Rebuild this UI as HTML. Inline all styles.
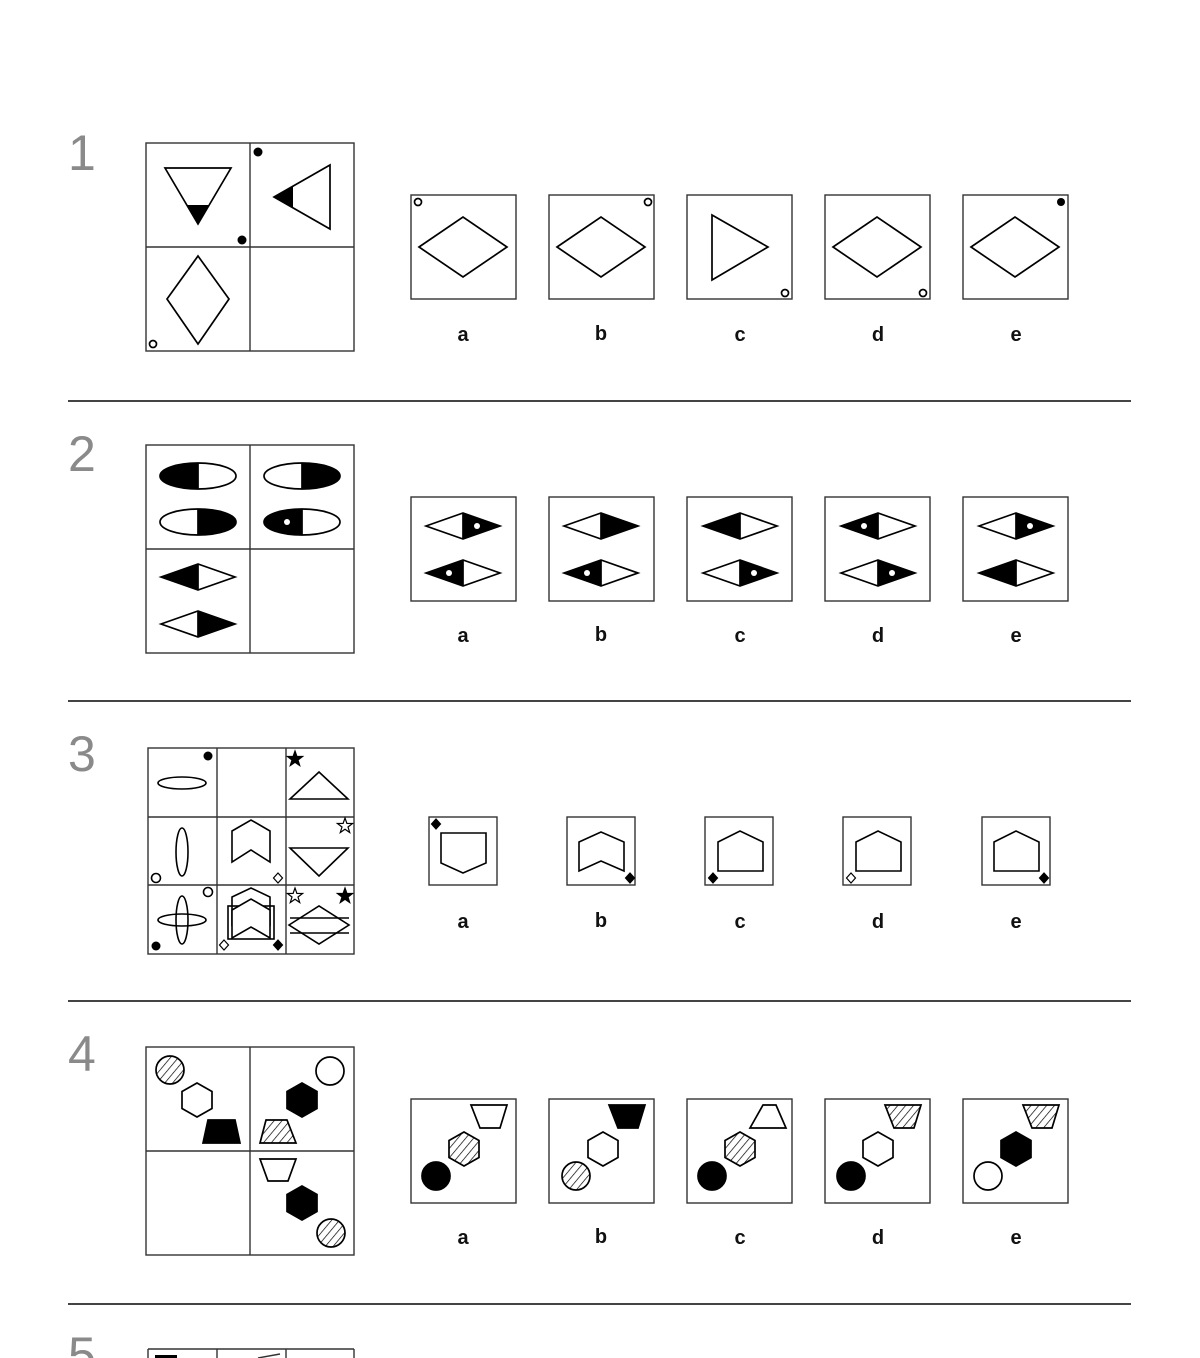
<!DOCTYPE html>
<html><head><meta charset="utf-8"><style>
html,body{margin:0;padding:0;background:#fff;}
svg{display:block;}
.n{font-family:"Liberation Sans",sans-serif;font-size:50px;fill:#8a8a8a;}
.l{font-family:"Liberation Sans",sans-serif;font-size:20px;font-weight:bold;fill:#111;text-anchor:middle;}
</style></head><body>
<svg width="1200" height="1358" viewBox="0 0 1200 1358" xmlns="http://www.w3.org/2000/svg">
<defs>
<pattern id="h" width="6" height="6" patternUnits="userSpaceOnUse" patternTransform="rotate(40)"><line x1="0" y1="0" x2="0" y2="6" stroke="#000" stroke-width="1.4"/></pattern>
<g id="dL"><polygon points="-37,0 0,-13 0,13" fill="#000"/><polygon points="-37,0 0,-13 37,0 0,13" fill="none" stroke="#000" stroke-width="1.7"/><line x1="0" y1="-13" x2="0" y2="13" stroke="#000" stroke-width="1.7"/></g>
<g id="dR"><polygon points="37,0 0,-13 0,13" fill="#000"/><polygon points="-37,0 0,-13 37,0 0,13" fill="none" stroke="#000" stroke-width="1.7"/><line x1="0" y1="-13" x2="0" y2="13" stroke="#000" stroke-width="1.7"/></g>
<g id="eL"><path d="M0,-13 A38,13 0 0 0 0,13 Z" fill="#000"/><ellipse rx="38" ry="13" fill="none" stroke="#000" stroke-width="1.7"/><line x1="0" y1="-13" x2="0" y2="13" stroke="#000" stroke-width="1.7"/></g>
<g id="eR"><path d="M0,-13 A38,13 0 0 1 0,13 Z" fill="#000"/><ellipse rx="38" ry="13" fill="none" stroke="#000" stroke-width="1.7"/><line x1="0" y1="-13" x2="0" y2="13" stroke="#000" stroke-width="1.7"/></g>
<polygon id="hex" points="0,-17 15,-8.5 15,8.5 0,17 -15,8.5 -15,-8.5" stroke="#000" stroke-width="1.7"/>
<polygon id="star" points="0,-8 1.9,-2.6 7.6,-2.5 3,1 4.7,6.5 0,3.2 -4.7,6.5 -3,1 -7.6,-2.5 -1.9,-2.6" stroke="#000" stroke-width="1.2"/>
<polygon id="sd" points="0,-5 4.5,0 0,5 -4.5,0" stroke="#000" stroke-width="1.2"/>
</defs>

<g stroke="#444" stroke-width="2">
<line x1="68" y1="401" x2="1131" y2="401"/>
<line x1="68" y1="701" x2="1131" y2="701"/>
<line x1="68" y1="1001" x2="1131" y2="1001"/>
<line x1="68" y1="1304" x2="1131" y2="1304"/>
</g>

<text class="n" x="68" y="170">1</text>
<text class="n" x="68" y="471">2</text>
<text class="n" x="68" y="771">3</text>
<text class="n" x="68" y="1071">4</text>
<text class="n" x="68" y="1372">5</text>

<!-- Row 1 -->
<g fill="none" stroke="#333" stroke-width="1.4">
<rect x="146" y="143" width="208" height="208"/><line x1="250" y1="143" x2="250" y2="351"/><line x1="146" y1="247" x2="354" y2="247"/>
<rect x="411" y="195" width="105" height="104"/><rect x="549" y="195" width="105" height="104"/><rect x="687" y="195" width="105" height="104"/><rect x="825" y="195" width="105" height="104"/><rect x="963" y="195" width="105" height="104"/>
</g>
<g fill="none" stroke="#000" stroke-width="1.7">
<polygon points="165,168 231,168 198,224"/>
<polygon points="274,197 330,165 330,229"/>
<polygon points="198,256 229,299 198,344 167,299"/>
<polygon points="419,247 463,217 507,247 463,277"/>
<polygon points="557,247 601,217 645,247 601,277"/>
<polygon points="712,215 768,247 712,280"/>
<polygon points="833,247 877,217 921,247 877,277"/>
<polygon points="971,247 1015,217 1059,247 1015,277"/>
<circle cx="153" cy="344" r="3.5"/><circle cx="418" cy="202" r="3.5"/><circle cx="648" cy="202" r="3.5"/><circle cx="785" cy="293" r="3.5"/><circle cx="923" cy="293" r="3.5"/>
</g>
<polygon points="187,205 209,205 198,224" fill="#000"/>
<polygon points="274,197 293,186 293,208" fill="#000"/>
<circle cx="242" cy="240" r="4.5" fill="#000"/><circle cx="258" cy="152" r="4.5" fill="#000"/><circle cx="1061" cy="202" r="4" fill="#000"/>
<text class="l" x="463" y="341">a</text><text class="l" x="601" y="340">b</text><text class="l" x="740" y="341">c</text><text class="l" x="878" y="341">d</text><text class="l" x="1016" y="341">e</text>

<!-- Row 2 -->
<g fill="none" stroke="#333" stroke-width="1.4">
<rect x="146" y="445" width="208" height="208"/><line x1="250" y1="445" x2="250" y2="653"/><line x1="146" y1="549" x2="354" y2="549"/>
<rect x="411" y="497" width="105" height="104"/><rect x="549" y="497" width="105" height="104"/><rect x="687" y="497" width="105" height="104"/><rect x="825" y="497" width="105" height="104"/><rect x="963" y="497" width="105" height="104"/>
</g>
<use href="#eL" x="198" y="476"/><use href="#eR" x="198" y="522"/><use href="#eR" x="302" y="476"/><use href="#eL" x="302" y="522"/>
<use href="#dL" x="198" y="577"/><use href="#dR" x="198" y="624"/>
<use href="#dR" x="463" y="526"/><use href="#dL" x="463" y="573"/>
<use href="#dR" x="601" y="526"/><use href="#dL" x="601" y="573"/>
<use href="#dL" x="740" y="526"/><use href="#dR" x="740" y="573"/>
<use href="#dL" x="878" y="526"/><use href="#dR" x="878" y="573"/>
<use href="#dR" x="1016" y="526"/><use href="#dL" x="1016" y="573"/>
<g fill="#fff"><circle cx="287" cy="522" r="3"/><circle cx="477" cy="526" r="3"/><circle cx="449" cy="573" r="3"/><circle cx="587" cy="573" r="3"/><circle cx="754" cy="573" r="3"/><circle cx="864" cy="526" r="3"/><circle cx="892" cy="573" r="3"/><circle cx="1030" cy="526" r="3"/></g>
<text class="l" x="463" y="642">a</text><text class="l" x="601" y="641">b</text><text class="l" x="740" y="642">c</text><text class="l" x="878" y="642">d</text><text class="l" x="1016" y="642">e</text>

<!-- Row 3 -->
<g fill="none" stroke="#333" stroke-width="1.4">
<rect x="148" y="748" width="206" height="206"/><line x1="217" y1="748" x2="217" y2="954"/><line x1="286" y1="748" x2="286" y2="954"/><line x1="148" y1="817" x2="354" y2="817"/><line x1="148" y1="885" x2="354" y2="885"/>
<rect x="429" y="817" width="68" height="68"/><rect x="567" y="817" width="68" height="68"/><rect x="705" y="817" width="68" height="68"/><rect x="843" y="817" width="68" height="68"/><rect x="982" y="817" width="68" height="68"/>
</g>
<g fill="none" stroke="#000" stroke-width="1.6">
<ellipse cx="182" cy="783" rx="24" ry="6"/>
<polygon points="290,799 319,772 348,799"/>
<ellipse cx="182" cy="852" rx="6" ry="24"/>
<polygon points="232,831 251,820 270,831 270,862 251,850 232,862"/>
<polygon points="290,848 348,848 319,876"/>
<ellipse cx="182" cy="920" rx="24" ry="6"/><ellipse cx="182" cy="920" rx="6" ry="24"/>
<polygon points="232,897 251,888 270,897 270,925 251,914 232,925"/>
<rect x="228" y="906" width="46" height="33"/>
<polygon points="232,910 251,899 270,910 270,938 251,927 232,938" fill="#fff"/>
<polygon points="289,925 319,906 349,925 319,944"/>
<line x1="290" y1="918" x2="349" y2="918"/><line x1="290" y1="933" x2="349" y2="933"/>
<circle cx="156" cy="878" r="4.5"/><circle cx="208" cy="892" r="4.5"/>
<polygon points="441,833 486,833 486,863 463,873 441,863"/>
<polygon points="579,842 601,832 624,842 624,871 601,861 579,871"/>
<polygon points="718,842 740,831 763,842 763,871 718,871"/>
<polygon points="856,842 878,831 901,842 901,871 856,871"/>
<polygon points="994,842 1016,831 1039,842 1039,871 994,871"/>
</g>
<circle cx="208" cy="756" r="4.5" fill="#000"/><circle cx="156" cy="946" r="4.5" fill="#000"/>
<use href="#star" x="295" y="759" fill="#000"/><use href="#star" x="345" y="826" fill="#fff"/><use href="#star" x="295" y="896" fill="#fff"/><use href="#star" x="345" y="896" fill="#000"/>
<use href="#sd" x="278" y="878" fill="#fff"/><use href="#sd" x="224" y="945" fill="#fff"/><use href="#sd" x="278" y="945" fill="#000"/>
<use href="#sd" x="436" y="824" fill="#000"/><use href="#sd" x="630" y="878" fill="#000"/><use href="#sd" x="713" y="878" fill="#000"/><use href="#sd" x="851" y="878" fill="#fff"/><use href="#sd" x="1044" y="878" fill="#000"/>
<text class="l" x="463" y="928">a</text><text class="l" x="601" y="927">b</text><text class="l" x="740" y="928">c</text><text class="l" x="878" y="928">d</text><text class="l" x="1016" y="928">e</text>

<!-- Row 4 -->
<g fill="none" stroke="#333" stroke-width="1.4">
<rect x="146" y="1047" width="208" height="208"/><line x1="250" y1="1047" x2="250" y2="1255"/><line x1="146" y1="1151" x2="354" y2="1151"/>
<rect x="411" y="1099" width="105" height="104"/><rect x="549" y="1099" width="105" height="104"/><rect x="687" y="1099" width="105" height="104"/><rect x="825" y="1099" width="105" height="104"/><rect x="963" y="1099" width="105" height="104"/>
</g>
<g stroke="#000" stroke-width="1.7">
<circle cx="170" cy="1070" r="14" fill="url(#h)"/>
<use href="#hex" x="197" y="1100" fill="#fff"/>
<polygon points="208,1120 235,1120 240,1143 203,1143" fill="#000"/>
<circle cx="330" cy="1071" r="14" fill="#fff"/>
<use href="#hex" x="302" y="1100" fill="#000"/>
<polygon points="266,1120 287,1120 296,1143 260,1143" fill="url(#h)"/>
<polygon points="260,1159 296,1159 288,1181 268,1181" fill="#fff"/>
<use href="#hex" x="302" y="1203" fill="#000"/>
<circle cx="331" cy="1233" r="14" fill="url(#h)"/>
<polygon points="471,1105 507,1105 500,1128 480,1128" fill="#fff"/>
<use href="#hex" x="464" y="1149" fill="url(#h)"/>
<circle cx="436" cy="1176" r="14" fill="#000"/>
<polygon points="609,1105 645,1105 638,1128 618,1128" fill="#000"/>
<use href="#hex" x="603" y="1149" fill="#fff"/>
<circle cx="576" cy="1176" r="14" fill="url(#h)"/>
<polygon points="763,1105 776,1105 786,1128 750,1128" fill="#fff"/>
<use href="#hex" x="740" y="1149" fill="url(#h)"/>
<circle cx="712" cy="1176" r="14" fill="#000"/>
<polygon points="885,1105 921,1105 914,1128 894,1128" fill="url(#h)"/>
<use href="#hex" x="878" y="1149" fill="#fff"/>
<circle cx="851" cy="1176" r="14" fill="#000"/>
<polygon points="1023,1105 1059,1105 1052,1128 1032,1128" fill="url(#h)"/>
<use href="#hex" x="1016" y="1149" fill="#000"/>
<circle cx="988" cy="1176" r="14" fill="#fff"/>
</g>
<text class="l" x="463" y="1244">a</text><text class="l" x="601" y="1243">b</text><text class="l" x="740" y="1244">c</text><text class="l" x="878" y="1244">d</text><text class="l" x="1016" y="1244">e</text>

<!-- Row 5 partial -->
<g fill="none" stroke="#333" stroke-width="1.4">
<line x1="148" y1="1349" x2="354" y2="1349"/><line x1="148" y1="1349" x2="148" y2="1358"/><line x1="217" y1="1349" x2="217" y2="1358"/><line x1="286" y1="1349" x2="286" y2="1358"/><line x1="354" y1="1349" x2="354" y2="1358"/>
<line x1="258" y1="1358" x2="280" y2="1354"/>
</g>
<rect x="155" y="1355" width="22" height="3" fill="#000"/>
</svg>
</body></html>
